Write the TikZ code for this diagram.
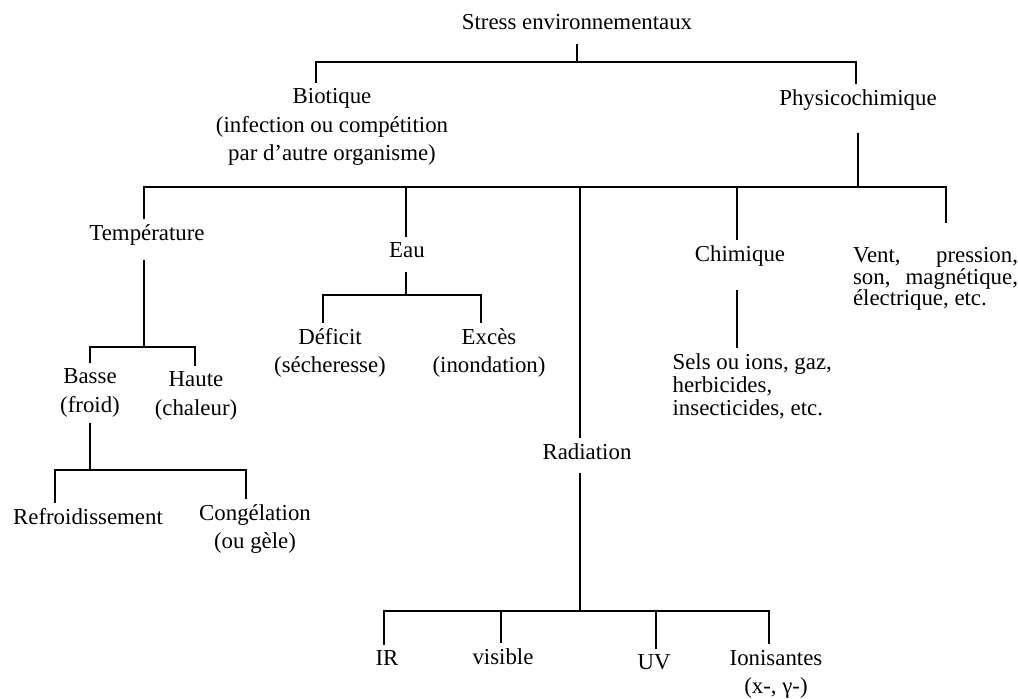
\documentclass[tikz,border=0pt]{standalone}
\usepackage{fontspec}
\setmainfont{Liberation Serif}
\begin{document}
\begin{tikzpicture}[
                x=0.02cm, y=-0.02cm,
                termnode/.style={inner sep=3pt, align=center, font=\fontsize{13}{16}\selectfont},
                listnode/.style={inner sep=3pt, align=left},
                branch/.style={line width=0.8pt}
            ]
            \useasboundingbox (0,0) rectangle (1018,699);

            % Root and first level
            \node[termnode] (root) at (577,22) {Stress environnementaux};
            \node[termnode] (bio) at (332,127) {Biotique\\(infection ou compétition\\par d'autre organisme)};
            \node[termnode] (phys) at (858,100) {Physicochimique};

            % Physicochimique branches
            \node[termnode] (temp) at (147,235) {Température};
            \node[termnode] (eau) at (407,250) {Eau};
            \node[termnode] (rad) at (587,452) {Radiation};
            \node[termnode] (chim) at (740,256) {Chimique};
            \node[listnode, font=\fontsize{13}{12.2}\selectfont] (vent) at (935.5,279)
                {\makebox[3.3cm][s]{Vent, pression,}\\\makebox[3.3cm][s]{son, magnétique,}\\électrique, etc.};
            \node[listnode, anchor=west, font=\fontsize{13}{13}\selectfont] (sels) at (667,386)
                {Sels ou ions, gaz,\\herbicides,\\insecticides, etc.};

            % Temperature and water
            \node[termnode] (basse) at (90,393) {Basse\\(froid)};
            \node[termnode] (haute) at (196,396) {Haute\\(chaleur)};
            \node[termnode] (refr) at (88,517) {Refroidissement};
            \node[termnode] (cong) at (255,529) {Congélation\\(ou gèle)};
            \node[termnode] (deficit) at (330,353) {Déficit\\(sécheresse)};
            \node[termnode] (exces) at (489,353) {Excès\\(inondation)};

            % Radiation types
            \node[termnode] (ir) at (387,658) {IR};
            \node[termnode] (visible) at (503,657) {visible};
            \node[termnode] (uv) at (654,662) {UV};
            \node[termnode] (ionis) at (776,674) {Ionisantes\\(x-, γ-)};

            % Junctions on the bars
            \coordinate (j-bio) at (316,62);
            \coordinate (j-phys) at (856,62);
            \coordinate (j-temp) at (144,187);
            \coordinate (j-eau) at (406,187);
            \coordinate (j-rad) at (580,187);
            \coordinate (j-chim) at (737,187);
            \coordinate (j-vent) at (946,187);
            \coordinate (j-basse) at (90,347);
            \coordinate (j-haute) at (195,347);
            \coordinate (j-deficit) at (323,295);
            \coordinate (j-exces) at (481,295);
            \coordinate (j-refr) at (55,470);
            \coordinate (j-cong) at (246,470);
            \coordinate (j-ir) at (384,611);
            \coordinate (j-vis) at (501,611);
            \coordinate (j-uv) at (656,611);
            \coordinate (j-ion) at (769,611);

            % Edges
            \draw[branch, shorten <=5pt] (root.south) -- (root.south |- j-bio);
            \draw[branch] (j-bio |- bio.north) -- (j-bio) -- (j-phys) -- (j-phys |- phys.north);

            \draw[branch, shorten <=9.5pt] (phys.south) -- (phys.south |- j-temp);
            \draw[branch, shorten >=11pt] (j-temp |- temp.north) -- (j-temp) -- (j-vent) -- (j-vent |- vent.north);
            \draw[branch] (j-eau) -- (j-eau |- eau.north);
            \draw[branch] (j-rad) -- (j-rad |- rad.north);
            \draw[branch] (j-chim) -- (j-chim |- chim.north);

            \draw[branch, shorten <=5pt] (j-temp |- temp.south) -- (j-temp |- j-basse);
            \draw[branch] (j-basse |- basse.north) -- (j-basse) -- (j-haute) -- (j-haute |- haute.north);
            \draw[branch] (j-basse |- basse.south) -- (j-basse |- j-refr);
            \draw[branch] (j-refr |- refr.north) -- (j-refr) -- (j-cong) -- (j-cong |- cong.north);

            \draw[branch, shorten <=5pt] (j-eau |- eau.south) -- (j-eau |- j-deficit);
            \draw[branch] (j-deficit |- deficit.north) -- (j-deficit) -- (j-exces) -- (j-exces |- exces.north);

            \draw[branch, shorten <=10pt] (j-chim |- chim.south) -- (j-chim |- sels.north);

            \draw[branch, shorten <=4pt] (j-rad |- rad.south) -- (j-rad |- j-ir);
            \draw[branch] (j-ir |- ir.north) -- (j-ir) -- (j-ion) -- (j-ion |- ionis.north);
            \draw[branch] (j-vis) -- (j-vis |- visible.north);
            \draw[branch] (j-uv) -- (j-uv |- uv.north);

        \end{tikzpicture}
\end{document}
